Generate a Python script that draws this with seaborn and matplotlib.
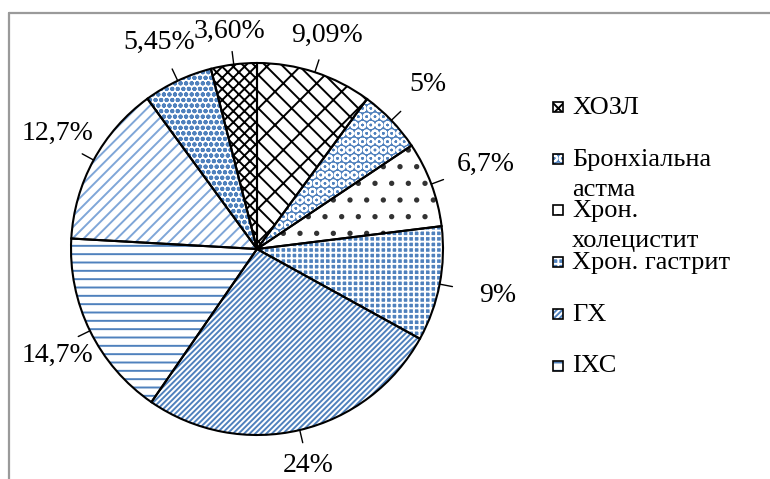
import matplotlib
matplotlib.use("Agg")
import matplotlib.pyplot as plt
import seaborn as sns
import numpy as np
from matplotlib.patches import Rectangle
from matplotlib.lines import Line2D

# Disease structure, % (clockwise from 12 o'clock)
categories = ["ХОЗЛ", "Бронхіальна\nастма", "Хрон.\nхолецистит", "Хрон. гастрит", "ГХ", "ІХС"]
shares = [9.09, 5, 6.7, 9, 24, 14.7, 12.7, 5.45, 3.60]
decimals = [2, 0, 1, 0, 0, 1, 1, 2, 2]

BLUE = "#4F81BD"
LIGHT_BLUE = "#7FA6D8"
fills = ["white", BLUE, "white", BLUE, "white", "white", "white", "white", "white"]
hatch_colors = ["black", "white", "#333333", "white", BLUE, BLUE, LIGHT_BLUE, BLUE, "black"]
hatches = ["\\\\/", "OO", ".", "+++", "//////", "--", "///", "ooo", "xxx"]

sns.set_theme(style="white")
plt.rcParams["font.family"] = ["Liberation Serif", "DejaVu Serif"]
plt.rcParams["hatch.linewidth"] = 1.4

W, H = 770, 479
fig = plt.figure(figsize=(W / 100, H / 100), dpi=100)
fig.patch.set_facecolor("white")

cx, cy, R = 257, 249, 186
lim = 1.3
half = lim * R
ax = fig.add_axes([(cx - half) / W, (H - cy - half) / H, 2 * half / W, 2 * half / H])

wedges, _ = ax.pie(shares, startangle=90, counterclock=False, radius=1,
                   wedgeprops=dict(linewidth=0))
for w, f, hc, ht in zip(wedges, fills, hatch_colors, hatches):
    w.set_facecolor(f)
    w.set_edgecolor(hc)
    w.set_hatch(ht)

ax.pie(shares, startangle=90, counterclock=False, radius=1,
       wedgeprops=dict(fill=False, edgecolor="black", linewidth=1.5))

ax.set_xlim(-lim, lim)
ax.set_ylim(-lim, lim)
ax.set_aspect("equal")
ax.axis("off")

# value labels with short leader lines
labels = []
for w, v, d in zip(wedges, shares, decimals):
    theta = np.deg2rad((w.theta1 + w.theta2) / 2)
    ux, uy = np.cos(theta), np.sin(theta)
    r = 1.16 + 0.16 * abs(ux)
    txt = f"{v:.{d}f}".replace(".", ",") + "%"
    ax.plot([ux * 1.0, ux * 1.07], [uy * 1.0, uy * 1.07], color="black", lw=1, clip_on=False)
    labels.append(ax.text(ux * r, uy * r, txt, ha="center", va="center",
                          fontsize=20, color="black"))

# keep labels inside the chart border on the left
renderer = fig.canvas.get_renderer()
left_limit = 22
for t in labels:
    bb = t.get_window_extent(renderer)
    if bb.x0 < left_limit:
        x, y = t.get_position()
        t.set_position((x + (left_limit - bb.x0) / R, y))


def fx(x):
    return x / W


def fy(y):
    return 1 - y / H


# legend drawn by hand so that the marker sits on the first text line
leg_x, leg_y0, leg_dy, box = 553, 107, 51.7, 10
for i, name in enumerate(categories):
    yc = leg_y0 + i * leg_dy
    fig.add_artist(Rectangle((fx(leg_x), fy(yc + box / 2)), box / W, box / H,
                             transform=fig.transFigure, facecolor=fills[i],
                             edgecolor=hatch_colors[i], hatch=hatches[i], linewidth=0))
    fig.add_artist(Rectangle((fx(leg_x), fy(yc + box / 2)), box / W, box / H,
                             transform=fig.transFigure, fill=False,
                             edgecolor="black", linewidth=1.2))
    for k, line in enumerate(name.split("\n")):
        fig.text(fx(572), fy(yc + 7 + k * 30), line, ha="left", va="baseline",
                 fontsize=19, color="black")

# chart area border
frame_kw = dict(transform=fig.transFigure, color="#9a9a9a", lw=1.6)
fig.add_artist(Line2D([fx(9), 1], [fy(13), fy(13)], **frame_kw))
fig.add_artist(Line2D([fx(9), fx(9)], [0, fy(13)], **frame_kw))

fig.savefig("out.png", dpi=100, facecolor="white")
